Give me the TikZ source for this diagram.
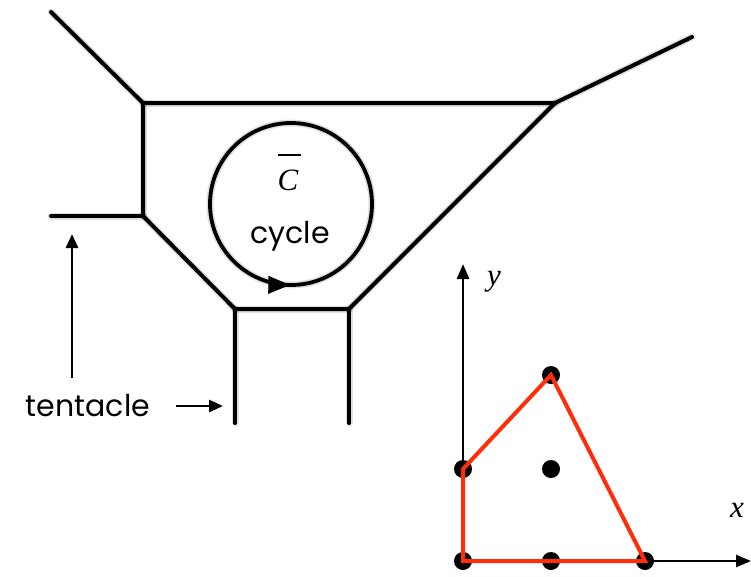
\documentclass[tikz,border=0pt]{standalone}
\usepackage{fontspec}
\setmainfont{Liberation Serif}
\newfontfamily\labfont{Poppins}
\usetikzlibrary{arrows.meta}
\begin{document}
\begin{tikzpicture}[x=1pt,y=-1pt,
  edge/.style={line width=4pt,line cap=round,line join=round,black},
  shad/.style={line width=7pt,line cap=round,line join=round,black,opacity=0.12,shift={(2,4)}},
  arr/.style={line width=2.8pt,-{Triangle[length=14pt,width=12pt]}},
  dot/.style={circle,fill=black,inner sep=0pt,minimum size=18pt},
  poly/.style={line width=4pt,color=redline,line join=miter},
  lab/.style={font=\labfont\fontsize{30}{30}\selectfont,inner sep=0pt},
  mlab/.style={font=\fontsize{31}{31}\selectfont\itshape,inner sep=0pt}]
\definecolor{redline}{RGB}{255,45,10}
\useasboundingbox (0,0) rectangle (751,576);
% graph vertices
\coordinate (tl) at (51,12);
\coordinate (a) at (143,103);
\coordinate (b) at (555,103);
\coordinate (tr) at (692,37);
\coordinate (c) at (143,216);
\coordinate (tent) at (51,216);
\coordinate (d) at (235,309);
\coordinate (e) at (349,309);
\coordinate (dl) at (235,423);
\coordinate (el) at (349,423);
\coordinate (cc) at (291,204);
% shadows
\foreach \s/\t in {tl/a,a/b,b/tr,a/c,tent/c,c/d,d/e,e/b,d/dl,e/el}
  \draw[shad] (\s) -- (\t);
\draw[shad] (cc) circle[radius=81];
% edges
\draw[edge] (tl) -- (a) -- (b) -- (tr);
\draw[edge] (a) -- (c) -- (d) -- (e) -- (b);
\draw[edge] (tent) -- (c);
\draw[edge] (d) -- (dl);
\draw[edge] (e) -- (el);
% cycle
\draw[line width=3.8pt] (cc) circle[radius=81];
\draw[line width=3.8pt,-{Triangle[length=22pt,width=17pt]}] (cc) ++(104:81) arc[start angle=104,end angle=90.5,radius=81];
\node[mlab,anchor=base] (cbar) at (288,190) {C};
\coordinate (bar1) at (278,155);
\coordinate (bar2) at (301,155);
\draw[line width=1.4pt] (bar1) -- (bar2);
\node[lab,anchor=base] (cyc) at (290,243) {cycle};
% tentacle label
\node[lab,anchor=base] (tl1) at (88,416) {tentacle};
\coordinate (up1) at (72,378);
\coordinate (up2) at (72,234);
\draw[arr] (up1) -- (up2);
\coordinate (r1) at (176,406);
\coordinate (r2) at (223,406);
\draw[arr] (r1) -- (r2);
% axes
\coordinate (o) at (463,561);
\coordinate (ytop) at (463,264);
\coordinate (xend) at (751,561);
\draw[line width=2.6pt,-{Triangle[length=15pt,width=12pt]}] (o) -- (ytop);
\draw[line width=2.6pt,-{Triangle[length=15pt,width=12pt]}] (o) -- (xend);
\node[mlab,anchor=base] (ylab) at (494,285) {y};
\node[mlab,anchor=base] (xlab) at (737,517) {x};
% lattice points
\node[dot] (p00) at (463,561) {};
\node[dot] (p10) at (551,561) {};
\node[dot] (p20) at (645,561) {};
\node[dot] (p01) at (463,469) {};
\node[dot] (p11) at (551,469) {};
\node[dot] (p12) at (551,375) {};
% Newton polygon
\draw[poly] (p00.center) -- (p01.center) -- (p12.center) -- (p20.center) -- cycle;
\end{tikzpicture}
\end{document}
